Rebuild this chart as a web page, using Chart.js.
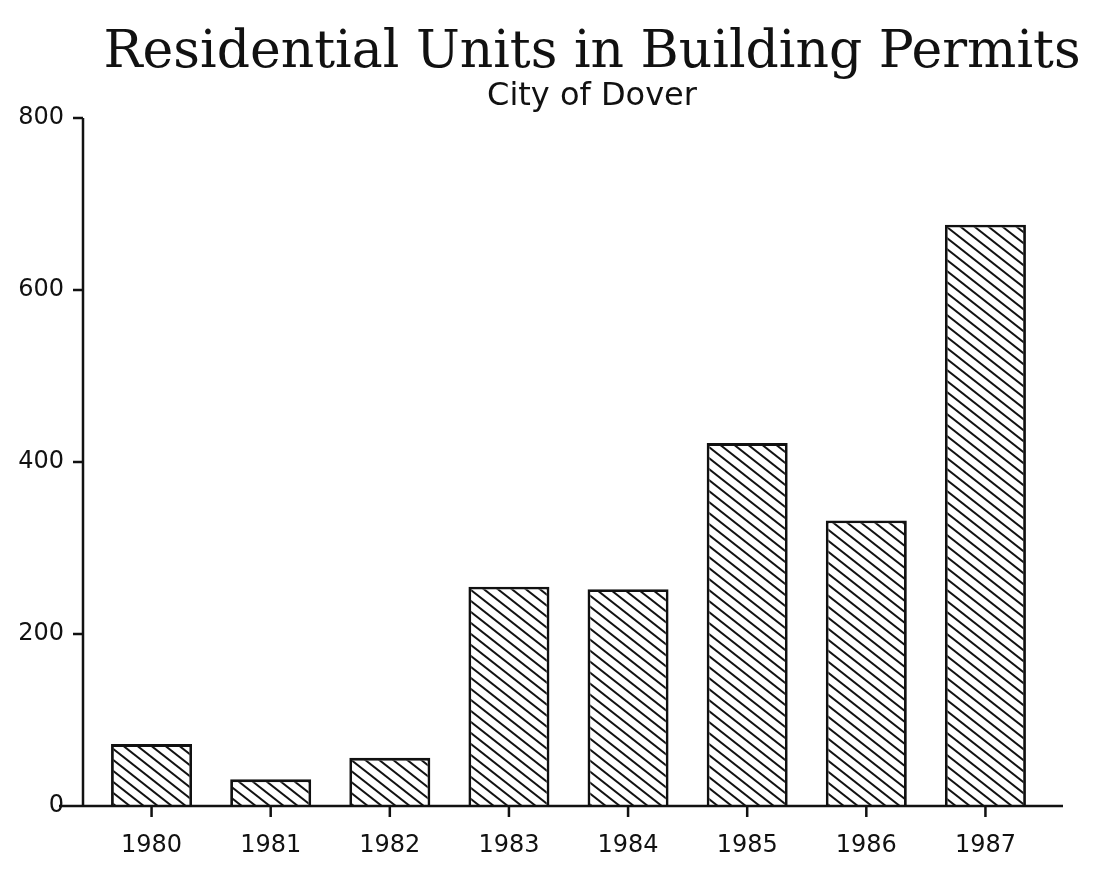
<!DOCTYPE html>
<html>
<head>
<meta charset="utf-8">
<script src="https://cdn.jsdelivr.net/npm/chart.js@4.4.0/dist/chart.umd.min.js"></script>
<style>
  html, body { margin: 0; padding: 0; background: #fff; overflow: hidden; }
  /* canvas runs a bit past the right edge so the title sits right of centre, as in the scan */
  #chart_permits { display: block; }
</style>
</head>
<body>
<canvas id="chart_permits" width="1184" height="871"></canvas>
<script>
// values
const years = ['1980', '1981', '1982', '1983', '1984', '1985', '1986', '1987'];
const units = [72, 31, 56, 255, 252, 422, 332, 676];
const yTicks = [0, 200, 400, 600, 800];

// diagonal "\\\" hatch like the plotter fill
function hatchPattern() {
    const w = 28, h = 22;
    const c = document.createElement('canvas');
    c.width = w;
    c.height = h;
    const g = c.getContext('2d');
    g.fillStyle = '#fff';
    g.fillRect(0, 0, w, h);
    g.strokeStyle = '#111';
    g.lineWidth = 2;
    for (let k = -3; k <= 3; k++) {
        const x0 = k * w / 2;
        g.beginPath();
        g.moveTo(x0 - w, -h);
        g.lineTo(x0 + 2 * w, 2 * h);
        g.stroke();
    }
    return g.createPattern(c, 'repeat');
}

// axes drawn by hand: short outside ticks, baseline running past the bars
const plotterAxes = {
    id: 'plotterAxes',
    afterDatasetsDraw(chart) {
        const { ctx, chartArea, scales: { x, y } } = chart;
        const ax = chartArea.left - 9;
        const y0 = y.getPixelForValue(0);
        ctx.save();
        ctx.strokeStyle = '#111';
        ctx.lineWidth = 2.5;
        ctx.beginPath();
        ctx.moveTo(ax, y.getPixelForValue(yTicks[yTicks.length - 1]));
        ctx.lineTo(ax, y0);
        yTicks.forEach(v => {
            const py = y.getPixelForValue(v);
            ctx.moveTo(ax - 10, py);
            ctx.lineTo(ax, py);
        });
        ctx.moveTo(ax - 24, y0);
        ctx.lineTo(chartArea.right + 18, y0);
        years.forEach((_, i) => {
            const px = x.getPixelForValue(i);
            ctx.moveTo(px, y0);
            ctx.lineTo(px, y0 + 11);
        });
        ctx.stroke();
        ctx.restore();
    }
};

let ctxPermits = document.getElementById('chart_permits').getContext('2d');
let chartPermits = new Chart(ctxPermits, {
    type: 'bar',
    data: {
        labels: years,
        datasets: [{
            label: 'Residential Units',
            data: units,
            backgroundColor: hatchPattern(),
            borderColor: '#111',
            borderWidth: 2.8,
            categoryPercentage: 1,
            barPercentage: 0.68
        }]
    },
    options: {
        responsive: false,
        animation: false,
        devicePixelRatio: 1,
        layout: { padding: 0 },
        plugins: {
            legend: { display: false },
            tooltip: { enabled: false },
            title: {
                display: true,
                text: 'Residential Units in Building Permits',
                color: '#111',
                font: { family: 'DejaVu Serif', size: 52, weight: 'normal', lineHeight: 1.0 },
                padding: { top: 27, bottom: 0 }
            },
            subtitle: {
                display: true,
                text: 'City of Dover',
                color: '#111',
                font: { family: 'DejaVu Sans', size: 32, weight: 'normal', lineHeight: 1.0 },
                padding: { top: 2, bottom: 5 }
            }
        },
        scales: {
            x: {
                grid: { display: false, drawTicks: false },
                border: { display: false },
                ticks: {
                    color: '#111',
                    font: { family: 'DejaVu Sans', size: 24 },
                    padding: 25,
                    maxRotation: 0
                },
                afterFit: function(s) { s.height = 65; }
            },
            y: {
                min: 0,
                max: 800,
                grid: { display: false, drawTicks: false },
                border: { display: false },
                ticks: {
                    stepSize: 200,
                    color: '#111',
                    font: { family: 'DejaVu Sans', size: 24 },
                    padding: 28
                },
                afterFit: function(s) { s.width = 92; }
            },
            y2: {
                position: 'right',
                grid: { display: false, drawTicks: false },
                border: { display: false },
                ticks: { display: false },
                afterFit: function(s) { s.width = 139; }
            }
        }
    },
    plugins: [plotterAxes]
});
</script>
</body>
</html>
